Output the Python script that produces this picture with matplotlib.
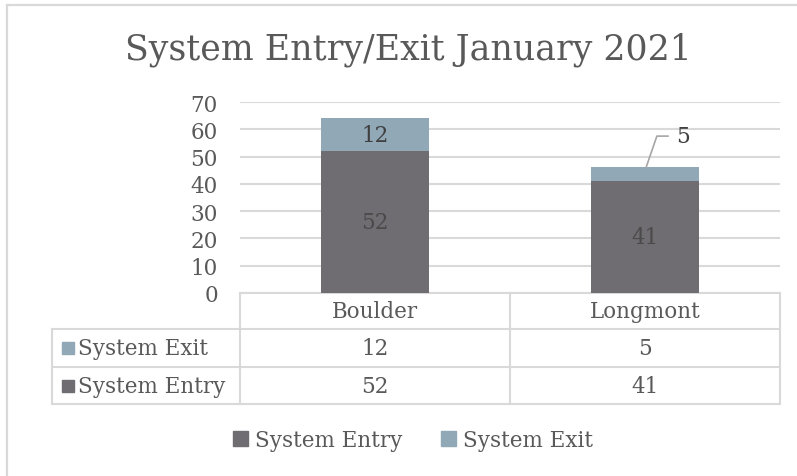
import matplotlib
matplotlib.use("Agg")
import matplotlib.pyplot as plt
from matplotlib.patches import Patch
from matplotlib.lines import Line2D
from matplotlib.transforms import blended_transform_factory

# data
sites = ["Boulder", "Longmont"]
entry = [52, 41]
exits = [12, 5]
series_names = ["System Entry", "System Exit"]
yticks = [0, 10, 20, 30, 40, 50, 60, 70]

ENTRY_COL = "#6f6d72"
EXIT_COL = "#91a8b7"
TXT = "#595959"
GRID = "#d9d9d9"
FS = 15.5

plt.rcParams["font.family"] = ["DejaVu Serif"]

W, H = 797, 477
fig = plt.figure(figsize=(W / 100, H / 100), dpi=100)


# pixel -> figure fraction helpers
def fx(x):
    return x / W


def fy(y):
    return 1 - y / H


ax = fig.add_axes([fx(240), fy(294), (780 - 240) / W, (294 - 103) / H])
xs = list(range(len(sites)))
ax.bar(xs, entry, width=0.4, color=ENTRY_COL, zorder=3)
ax.bar(xs, exits, bottom=entry, width=0.4, color=EXIT_COL, zorder=3)
ax.set_xlim(-0.5, len(sites) - 0.5)
ax.set_ylim(0, 70)
ax.set_yticks(yticks)
ax.set_xticks([])
ax.yaxis.grid(True, color=GRID, lw=1.5)
ax.set_axisbelow(True)
for s in ax.spines.values():
    s.set_visible(False)
ax.tick_params(axis="y", length=0, pad=16, labelsize=FS, labelcolor=TXT)

# value labels
for i in xs:
    ax.text(i, entry[i] / 2, str(entry[i]), ha="center", va="center",
            fontsize=FS, color="#4a4a4a", zorder=4)
    top = entry[i] + exits[i]
    if exits[i] >= 8:
        ax.text(i, entry[i] + exits[i] / 2, str(exits[i]), ha="center",
                va="center", fontsize=FS, color="#404040", zorder=4)
    else:
        # small segment: label sits outside with a leader line
        ly = top + 11.5
        ax.plot([i + 0.004, i + 0.044, i + 0.085], [top, ly, ly],
                color="#a6a6a6", lw=1.2, zorder=4, clip_on=False)
        ax.text(i + 0.115, ly, str(exits[i]), ha="left", va="center",
                fontsize=FS, color="#404040", zorder=4)

# data table under the plot
tr = blended_transform_factory(ax.transData, ax.transAxes)
row_edges = [0, -0.19, -0.39, -0.582]
left_edge = -0.5 - 188 / 270
col_edges = [i - 0.5 for i in range(len(sites) + 1)]
lkw = dict(color=GRID, lw=1.5, transform=tr, clip_on=False)

ax.plot([col_edges[0], col_edges[-1]], [0, 0], **lkw)
for y in row_edges[1:]:
    ax.plot([left_edge, col_edges[-1]], [y, y], **lkw)
for c in col_edges:
    ax.plot([c, c], [0, row_edges[-1]], **lkw)
ax.plot([left_edge, left_edge], [row_edges[1], row_edges[-1]], **lkw)

rows = [(series_names[1], exits, EXIT_COL), (series_names[0], entry, ENTRY_COL)]
hy = (row_edges[0] + row_edges[1]) / 2
for i, name in enumerate(sites):
    ax.text(i, hy, name, ha="center", va="center", fontsize=FS, color=TXT,
            transform=tr, clip_on=False)
for r, (name, vals, col) in enumerate(rows):
    yc = (row_edges[r + 1] + row_edges[r + 2]) / 2
    ax.plot([left_edge + 16 / 270], [yc], marker="s", ms=9, color=col,
            transform=tr, clip_on=False)
    ax.text(left_edge + 26 / 270, yc, name, ha="left", va="center",
            fontsize=FS, color=TXT, transform=tr, clip_on=False)
    for i, v in enumerate(vals):
        ax.text(i, yc, str(v), ha="center", va="center", fontsize=FS,
                color=TXT, transform=tr, clip_on=False)

fig.text(fx(408), fy(50), "System Entry/Exit January 2021", ha="center",
         va="center", fontsize=25, color=TXT)

handles = [Patch(color=ENTRY_COL), Patch(color=EXIT_COL)]
fig.legend(handles, series_names, loc="center",
           bbox_to_anchor=(fx(413), fy(441)), ncol=2, frameon=False,
           fontsize=FS, handlelength=0.7, handleheight=0.7,
           handletextpad=0.3, columnspacing=1.8, labelcolor=TXT)

# chart frame (top and left edges)
fig.add_artist(Line2D([fx(6.5), fx(6.5)], [0, fy(5.5)], color=GRID, lw=1.6))
fig.add_artist(Line2D([fx(6.5), 1], [fy(5.5), fy(5.5)], color=GRID, lw=1.6))

fig.savefig("out.png", dpi=100)
